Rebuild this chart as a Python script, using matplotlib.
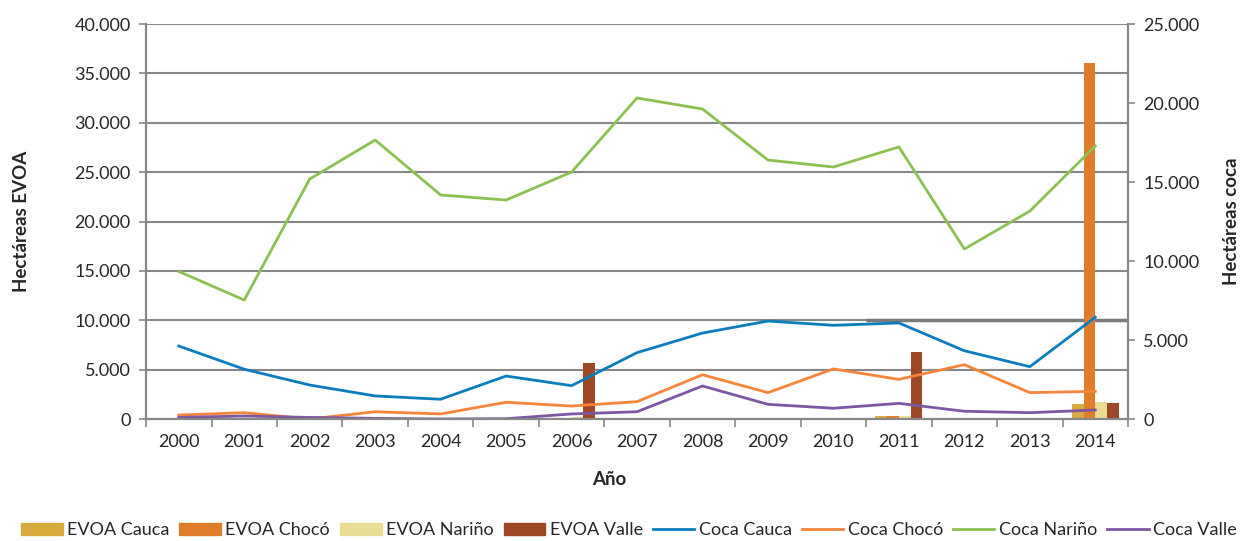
import matplotlib.pyplot as plt
import numpy as np
from matplotlib.ticker import FuncFormatter, MultipleLocator, FixedLocator
from matplotlib.patches import Patch
from matplotlib.lines import Line2D

plt.rcParams['font.family'] = ['Lato', 'DejaVu Sans']

years = [str(y) for y in range(2000, 2015)]

# hectareas EVOA (eje izquierdo)
evoa_cauca = [0, 0, 0, 0, 0, 0, 0, 0, 0, 0, 0, 300, 0, 0, 1500]
evoa_choco = [0, 0, 0, 0, 0, 0, 0, 0, 0, 0, 0, 300, 0, 0, 36100]
evoa_narino = [0, 0, 0, 0, 0, 0, 200, 0, 0, 0, 0, 300, 0, 0, 1750]
evoa_valle = [0, 0, 0, 0, 0, 0, 5700, 0, 0, 0, 0, 6800, 0, 0, 1600]

# hectareas coca (eje derecho)
coca_cauca = [4620, 3150, 2150, 1460, 1250, 2720, 2110, 4200, 5440, 6200, 5930, 6080, 4320, 3310, 6440]
coca_choco = [250, 400, 0, 460, 320, 1060, 820, 1100, 2800, 1670, 3170, 2510, 3440, 1670, 1750]
coca_narino = [9340, 7530, 15190, 17660, 14180, 13860, 15630, 20320, 19620, 16390, 15950, 17220, 10760, 13160, 17280]
coca_valle = [100, 190, 100, 40, 0, 20, 320, 460, 2090, 930, 680, 990, 490, 400, 570]

bar_colors = ['#d6aa3c', '#e07d2a', '#e9dc95', '#9e4826']
line_colors = ['#0b7dbf', '#f5853a', '#8cc152', '#7d57a3']
grey = '#878787'
txt = '#262626'

def miles(v, pos):
    return f'{int(v):,}'.replace(',', '.')

fig = plt.figure(figsize=(12.43, 5.41), dpi=100)
ax = fig.add_axes([0.1175, 0.2255, 0.79, 0.7301])
ax2 = ax.twinx()

x = np.arange(len(years))
w = 0.18
evoa = [evoa_cauca, evoa_choco, evoa_narino, evoa_valle]
for i, vals in enumerate(evoa):
    ax.bar(x + (i - 1.5) * w, vals, w, color=bar_colors[i], zorder=2)

coca = [coca_cauca, coca_choco, coca_narino, coca_valle]
for i, vals in enumerate(coca):
    ax2.plot(x, vals, color=line_colors[i], lw=2.0)

ax.set_xlim(-0.5, len(years) - 0.5)
ax.set_ylim(0, 40000)
ax2.set_ylim(0, 25000)
ax.yaxis.set_major_locator(MultipleLocator(5000))
ax2.yaxis.set_major_locator(MultipleLocator(5000))
ax.yaxis.set_major_formatter(FuncFormatter(miles))
ax2.yaxis.set_major_formatter(FuncFormatter(miles))

ax.grid(axis='y', color=grey, lw=1.5, zorder=0)
ax.set_axisbelow(True)
ax.hlines(10000, 10.5, 14.5, color='#7a7a7a', lw=2.5, zorder=1)

ax.xaxis.set_major_locator(FixedLocator(np.arange(-0.5, len(years), 1)))
ax.xaxis.set_major_formatter(FuncFormatter(lambda v, p: ''))
ax.set_xticks(x, years, minor=True)
ax.tick_params(axis='x', which='major', direction='out', length=6, width=1.2, color=grey)
ax.tick_params(axis='x', which='minor', length=0, pad=11, labelsize=13, labelcolor=txt)
ax.tick_params(axis='y', direction='out', length=5, width=1.2, color=grey, labelsize=13, labelcolor=txt, pad=6)
ax2.tick_params(axis='y', direction='out', length=5, width=1.2, color=grey, labelsize=13, labelcolor=txt, pad=6)

for a in (ax, ax2):
    a.spines['top'].set_visible(False)
    for s in ('left', 'right', 'bottom'):
        a.spines[s].set_color(grey)
        a.spines[s].set_linewidth(1.5)

ax.set_ylabel('Hectáreas EVOA', fontsize=13.5, fontweight='bold', color=txt, labelpad=32)
ax2.set_ylabel('Hectáreas coca', fontsize=13.5, fontweight='bold', color=txt, labelpad=17, rotation=90)
ax.set_xlabel('Año', fontsize=13.5, fontweight='bold', color=txt, labelpad=15)
ax.xaxis.label.set_x(0.472)

handles = [Patch(color=c) for c in bar_colors] + [Line2D([], [], color=c, lw=2) for c in line_colors]
labels = ['EVOA Cauca', 'EVOA Chocó', 'EVOA Nariño', 'EVOA Valle',
          'Coca Cauca', 'Coca Chocó', 'Coca Nariño', 'Coca Valle']
fig.legend(handles, labels, loc='center', bbox_to_anchor=(0.506, 0.02), ncol=8,
           frameon=False, fontsize=13, handlelength=2.3, handletextpad=0.25,
           columnspacing=0.55, labelcolor=txt)

fig.savefig('out.png', dpi=100)
